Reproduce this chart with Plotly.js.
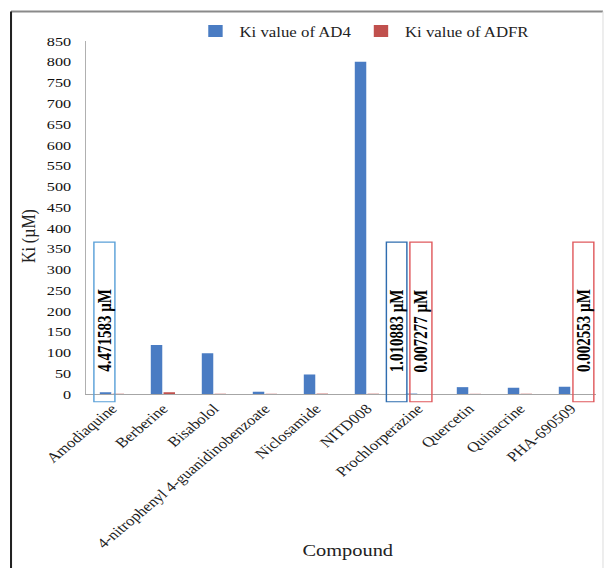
<!DOCTYPE html>
<html>
<head>
<meta charset="utf-8">
<script src="https://cdn.plot.ly/plotly-3.0.1.min.js"></script>
<style>
  html, body { margin: 0; padding: 0; background: #fff; overflow: hidden; }
  #wrap { width: 505px; height: 568px; transform: scaleX(1.2); transform-origin: 0 0; }
</style>
</head>
<body>
<div id="wrap"><div id="chart" style="width:505px;height:568px;"></div></div>
<script>
// ---- data ----
const categories = ['Amodiaquine', 'Berberine', 'Bisabolol', '4-nitrophenyl 4-guanidinobenzoate',
  'Niclosamide', 'NITD008', 'Prochlorperazine', 'Quercetin', 'Quinacrine', 'PHA-690509'];
const ad4Values  = [4.471583, 118, 98, 5.5, 47, 800, 1.010883, 16.5, 15, 17.5];
const adfrValues = [0.6, 4.5, 0.8, 0.5, 0.9, 0.7, 0.007277, 0.4, 0.5, 0.002553];
const seriesNames = ['Ki value of AD4', 'Ki value of ADFR'];
const yTicks = [0, 50, 100, 150, 200, 250, 300, 350, 400, 450, 500, 550, 600, 650, 700, 750, 800, 850];
// highlighted values: [series, category index]
const highlights = [['AD4', 0], ['AD4', 6], ['ADFR', 6], ['ADFR', 9]];

const FONT = "'Liberation Serif', 'Times New Roman', serif";
const BLUE = '#4A7CC3', RED = '#C0504D';

const traces = [
  { type: 'bar', name: seriesNames[0], x: categories, y: ad4Values, marker: { color: BLUE } },
  { type: 'bar', name: seriesNames[1], x: categories, y: adfrValues, marker: { color: RED } }
];

// box geometry (category units offsets), styles
const boxStyle = {
  'AD4-0': { x0: -0.353, x1: 0.059, color: '#5AA0D8' },
  'AD4-6': { x0: -0.618, x1: -0.216, color: '#2F6DAF' },
  'ADFR-6': { x0: -0.157, x1: 0.275, color: '#E05A5E' },
  'ADFR-9': { x0: 0.04, x1: 0.45, color: '#E05A5E' }
};

const shapes = [];
const annotations = [];
highlights.forEach(([s, i]) => {
  const st = boxStyle[s + '-' + i];
  const val = s === 'AD4' ? ad4Values[i] : adfrValues[i];
  shapes.push({ type: 'rect', xref: 'x', yref: 'paper', x0: i + st.x0, x1: i + st.x1,
    y0: -0.022, y1: 0.43, line: { color: st.color, width: 1.2 }, fillcolor: 'rgba(0,0,0,0)' });
  annotations.push({ xref: 'x', yref: 'paper', x: i + (st.x0 + st.x1) / 2, y: 0.179,
    xanchor: 'center', yanchor: 'middle',
    text: '<b>' + val.toFixed(6) + ' µM</b>', showarrow: false, textangle: -90,
    font: { family: FONT, size: 15, color: '#000' } });
});

// outer frame
shapes.push({ type: 'line', xref: 'paper', yref: 'paper', x0: -0.1478, x1: 1.0129, y0: 1.0833, y1: 1.0833, line: { color: '#8a8a8a', width: 2 } });
shapes.push({ type: 'line', xref: 'paper', yref: 'paper', x0: -0.1478, x1: -0.1478, y0: 1.0833, y1: -0.5, line: { color: '#222', width: 1.7 } });
shapes.push({ type: 'line', xref: 'paper', yref: 'paper', x0: 1.0129, x1: 1.0129, y0: 1.0833, y1: -0.5, line: { color: '#e2e2e2', width: 1 } });

// axis titles
annotations.push({ xref: 'paper', yref: 'paper', x: (24.2 - 72) / 425, y: (394.5 - 236) / 354,
  xanchor: 'center', yanchor: 'middle',
  text: 'Ki (µM)', showarrow: false, textangle: -90, font: { family: FONT, size: 16, color: '#222' } });
annotations.push({ xref: 'paper', yref: 'paper', x: (290.4 - 72) / 425, y: (394.5 - 551) / 354,
  xanchor: 'center', yanchor: 'middle',
  text: 'Compound', showarrow: false, font: { family: FONT, size: 17, color: '#222' } });

const layout = {
  width: 505, height: 568,
  margin: { l: 72, r: 8, t: 40.5, b: 173.5 },
  paper_bgcolor: '#fff', plot_bgcolor: '#fff',
  font: { family: FONT, color: '#222' },
  barmode: 'group', bargap: 0.5, bargroupgap: 0.1,
  showlegend: true,
  legend: { orientation: 'h', x: 0.206, xanchor: 'left', y: 1.027, yanchor: 'middle',
    font: { family: FONT, size: 14, color: '#222' }, bgcolor: 'rgba(0,0,0,0)' },
  xaxis: { type: 'category', showgrid: false, zeroline: false, showline: true, linecolor: '#a6a6a6', linewidth: 1,
    ticks: '', tickangle: -45, tickfont: { family: FONT, size: 14, color: '#222' }, automargin: false },
  yaxis: { range: [0, 850], showgrid: false, zeroline: false, showline: true, linecolor: '#b0b0b0', linewidth: 1,
    ticks: '', tickvals: yTicks, ticktext: yTicks.map(String), ticklabelstandoff: 9,
    tickfont: { family: FONT, size: 13.5, color: '#111' }, automargin: false },
  shapes: shapes,
  annotations: annotations
};

Plotly.newPlot('chart', traces, layout, { displayModeBar: false, staticPlot: true });
</script>
</body>
</html>
